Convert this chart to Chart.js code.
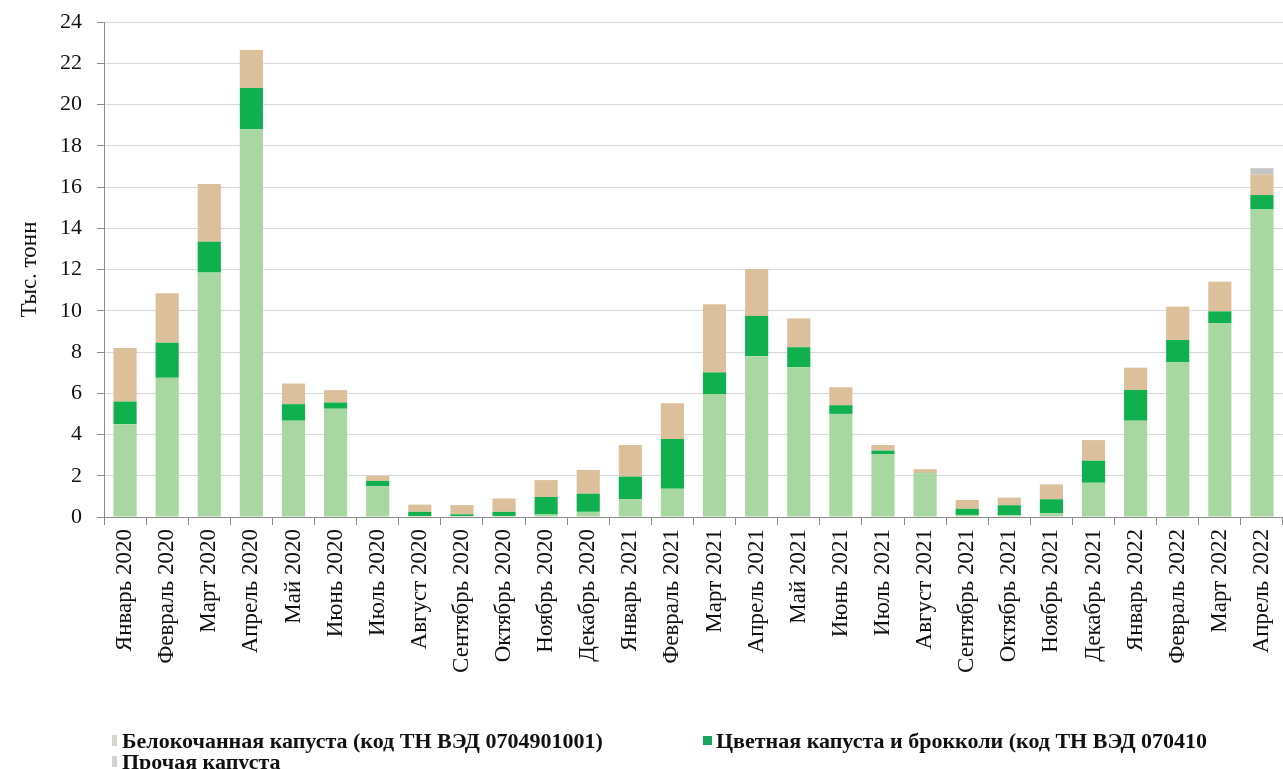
<!DOCTYPE html>
<html>
<head>
<meta charset="utf-8">
<script src="https://cdn.jsdelivr.net/npm/chart.js@4"></script>
<style>
  body { margin: 0; background: #fff; }
  #wrap { position: relative; width: 1283px; height: 769px; overflow: hidden; }
  .legend { position: absolute; font-family: "Liberation Serif", serif; font-weight: bold; font-size: 22px; color: #111; white-space: nowrap; line-height: 22px; }
  .mark { position: absolute; }
</style>
</head>
<body>
<div id="wrap">
  <canvas id="chart" width="1283" height="769"></canvas>
  <span class="mark" style="left:112px;top:735px;width:5px;height:11px;background:#d6d6cc"></span>
  <div class="legend" style="left:122px;top:730px">Белокочанная капуста (код ТН ВЭД 0704901001)</div>
  <span class="mark" style="left:703px;top:736px;width:9px;height:9px;background:#17a55c"></span>
  <div class="legend" style="left:716px;top:730px">Цветная капуста и брокколи (код ТН ВЭД 070410</div>
  <span class="mark" style="left:112px;top:756px;width:5px;height:11px;background:#d2d2d2"></span>
  <div class="legend" style="left:122px;top:751px">Прочая капуста</div>
</div>
<script>
var months = ["Январь 2020", "Февраль 2020", "Март 2020", "Апрель 2020", "Май 2020", "Июнь 2020",
    "Июль 2020", "Август 2020", "Сентябрь 2020", "Октябрь 2020", "Ноябрь 2020", "Декабрь 2020",
    "Январь 2021", "Февраль 2021", "Март 2021", "Апрель 2021", "Май 2021", "Июнь 2021",
    "Июль 2021", "Август 2021", "Сентябрь 2021", "Октябрь 2021", "Ноябрь 2021", "Декабрь 2021",
    "Январь 2022", "Февраль 2022", "Март 2022", "Апрель 2022"];

// тыс. тонн
var whiteCabbage = [4.5, 6.75, 11.85, 18.8, 4.67, 5.25, 1.5, 0.05, 0.05, 0.05, 0.12, 0.25,
    0.86, 1.37, 5.96, 7.8, 7.26, 5.0, 3.05, 2.12, 0.1, 0.08, 0.18, 1.66, 4.67, 7.5, 9.39, 14.93];
var cauliflower = [1.1, 1.7, 1.5, 2.0, 0.8, 0.3, 0.25, 0.2, 0.08, 0.2, 0.85, 0.88,
    1.1, 2.41, 1.05, 1.95, 0.97, 0.42, 0.17, 0.02, 0.3, 0.49, 0.68, 1.07, 1.49, 1.08, 0.58, 0.68];
var otherCabbage = [2.6, 2.4, 2.8, 1.85, 1.0, 0.6, 0.25, 0.35, 0.45, 0.65, 0.82, 1.15,
    1.53, 1.73, 3.3, 2.27, 1.4, 0.87, 0.27, 0.18, 0.43, 0.37, 0.72, 1.0, 1.08, 1.62, 1.44, 1.0];
var restCabbage = [0, 0, 0, 0, 0, 0, 0, 0, 0, 0, 0, 0,
    0, 0, 0, 0, 0, 0, 0, 0, 0, 0, 0, 0, 0, 0, 0, 0.3];

var yTicks = [0, 2, 4, 6, 8, 10, 12, 14, 16, 18, 20, 22, 24];

var serif = "'Liberation Serif', 'Times New Roman', serif";

var chart = new Chart(document.getElementById("chart").getContext("2d"), {
    type: "bar",
    data: {
        labels: months,
        datasets: [
            { label: "Белокочанная капуста", data: whiteCabbage, backgroundColor: "#a9d7a1" },
            { label: "Цветная капуста и брокколи", data: cauliflower, backgroundColor: "#10b04f" },
            { label: "Прочая капуста", data: otherCabbage, backgroundColor: "#dcc09c" },
            { label: "Прочее", data: restCabbage, backgroundColor: "#c4c4c4" }
        ]
    },
    options: {
        responsive: false,
        animation: false,
        layout: { padding: { top: 22, right: 0, bottom: 0, left: 0 } },
        datasets: { bar: { barPercentage: 0.55, categoryPercentage: 1, borderWidth: 0 } },
        plugins: {
            legend: { display: false },
            tooltip: { enabled: false }
        },
        scales: {
            x: {
                stacked: true,
                afterFit: function (scale) {
                    scale.height = 252;
                    scale.paddingLeft = 0;
                    scale.paddingRight = 0;
                },
                grid: { drawOnChartArea: false, drawTicks: true, tickLength: 8, color: "#8c8c8c" },
                border: { color: "#8c8c8c" },
                ticks: {
                    minRotation: 90,
                    maxRotation: 90,
                    autoSkip: false,
                    padding: 4,
                    color: "#111",
                    font: { family: serif, size: 23 }
                }
            },
            y: {
                stacked: true,
                min: 0,
                max: 24,
                afterFit: function (scale) {
                    scale.width = 104;
                    scale.paddingTop = 0;
                    scale.paddingBottom = 0;
                },
                afterBuildTicks: function (scale) {
                    scale.ticks = yTicks.map(function (v) { return { value: v }; });
                },
                grid: { color: "#d9d9d9", tickLength: 7, tickColor: "#8c8c8c" },
                border: { color: "#8c8c8c" },
                ticks: {
                    padding: 15,
                    color: "#111",
                    font: { family: serif, size: 22 }
                },
                title: {
                    display: true,
                    text: "Тыс. тонн",
                    color: "#111",
                    padding: { top: 16, bottom: 0 },
                    font: { family: serif, size: 23 }
                }
            }
        }
    }
});
</script>
</body>
</html>
